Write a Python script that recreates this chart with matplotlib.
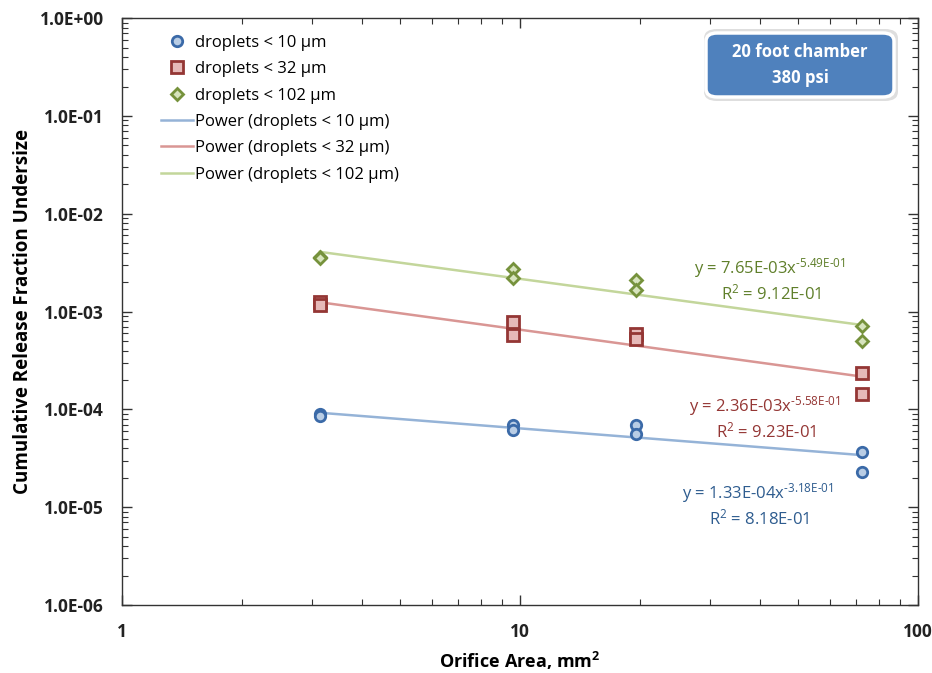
import numpy as np
import matplotlib
matplotlib.use('Agg')
import matplotlib.pyplot as plt
from matplotlib.ticker import LogLocator, NullFormatter, FixedLocator, FixedFormatter
from matplotlib.patches import FancyBboxPatch

plt.rcParams['font.family'] = ['Open Sans', 'DejaVu Sans']
plt.rcParams['mathtext.fontset'] = 'custom'
plt.rcParams['mathtext.rm'] = 'Open Sans'
plt.rcParams['mathtext.default'] = 'regular'

# ----------
# Data

areas = [3.14, 3.14, 9.6, 9.6, 19.6, 19.6, 72.4, 72.4]

frac_10 = [8.9e-5, 8.5e-5, 6.9e-5, 6.2e-5, 6.9e-5, 5.6e-5, 3.65e-5, 2.3e-5]
frac_32 = [1.25e-3, 1.16e-3, 7.8e-4, 5.7e-4, 5.9e-4, 5.2e-4, 2.34e-4, 1.45e-4]
frac_102 = [3.6e-3, 3.55e-3, 2.75e-3, 2.2e-3, 2.1e-3, 1.66e-3, 7.1e-4, 5.0e-4]

# power fits y = a * x^b, as printed on the chart
fit_a = [1.33e-4, 2.36e-3, 7.65e-3]
fit_b = [-3.18e-1, -5.58e-1, -5.49e-1]
fit_eq = ['1.33E-04', '2.36E-03', '7.65E-03']
fit_exp = ['-3.18E-01', '-5.58E-01', '-5.49E-01']
fit_r2_txt = ['8.18E-01', '9.23E-01', '9.12E-01']

series_names = ['droplets < 10 µm', 'droplets < 32 µm', 'droplets < 102 µm']
y_ticks = [1e-6, 1e-5, 1e-4, 1e-3, 1e-2, 1e-1, 1e0]
y_tick_labels = ['1.0E-06', '1.0E-05', '1.0E-04', '1.0E-03', '1.0E-02', '1.0E-01', '1.0E+00']
x_ticks = [1, 10, 100]
x_tick_labels = ['1', '10', '100']

# ----------

edge_cols = ['#3B6AA8', '#943634', '#76923C']
face_cols = ['#B9CDE5', '#E6B9B8', '#D7E4BD']
line_cols = ['#95B3D7', '#D99694', '#C3D69B']
text_cols = ['#2E5C8F', '#943634', '#5F7F2A']
markers = ['o', 's', 'D']
msizes = [7.5, 8, 6]

fig = plt.figure(figsize=(9.32, 6.73), dpi=100)
ax = fig.add_axes([0.131, 0.101, 0.854, 0.872])

all_y = [frac_10, frac_32, frac_102]
for i in range(3):
    ax.plot(areas, all_y[i], linestyle='none', marker=markers[i], ms=msizes[i],
            mfc=face_cols[i], mec=edge_cols[i], mew=2, label=series_names[i], zorder=3)

xs = np.linspace(min(areas), max(areas), 100)
for i in range(3):
    ax.plot(xs, fit_a[i] * xs ** fit_b[i], color=line_cols[i], lw=1.8,
            label='Power (' + series_names[i] + ')', zorder=2)

ax.set_xscale('log')
ax.set_yscale('log')
ax.set_xlim(1, 100)
ax.set_ylim(1e-6, 1)

ax.yaxis.set_major_locator(FixedLocator(y_ticks))
ax.yaxis.set_major_formatter(FixedFormatter(y_tick_labels))
ax.xaxis.set_major_locator(FixedLocator(x_ticks))
ax.xaxis.set_major_formatter(FixedFormatter(x_tick_labels))
ax.xaxis.set_minor_locator(LogLocator(base=10, subs=np.arange(2, 10)))
ax.yaxis.set_minor_locator(LogLocator(base=10, subs=np.arange(2, 10)))
ax.xaxis.set_minor_formatter(NullFormatter())
ax.yaxis.set_minor_formatter(NullFormatter())

ax.tick_params(which='both', direction='in', top=True, right=True, color='#333333')
ax.tick_params(which='major', length=7, width=1)
ax.tick_params(which='minor', length=4, width=0.8)
ax.tick_params(axis='y', which='major', pad=13)
ax.tick_params(axis='x', which='major', pad=13)
for lab in ax.get_xticklabels() + ax.get_yticklabels():
    lab.set_fontweight('bold')
    lab.set_fontsize(12.5)
    lab.set_color('#222222')
for sp in ax.spines.values():
    sp.set_color('#333333')
    sp.set_linewidth(1)

ax.set_xlabel('Orifice Area, mm$^{2}$', fontsize=13, fontweight='bold', labelpad=6)
ax.set_ylabel('Cumulative Release Fraction Undersize', fontsize=13.5, fontweight='bold', labelpad=5)

leg = ax.legend(loc='upper left', bbox_to_anchor=(0.03, 0.997), frameon=False,
                fontsize=12, labelspacing=0.62, handlelength=1.9, handletextpad=0.15)

# fit equations
eq_pos = [(758, 493), (765, 406), (770, 268)]
for i in range(3):
    px, py = eq_pos[i]
    fx = px / 932
    fy = 1 - py / 673
    fig.text(fx, fy, 'y = ' + fit_eq[i] + 'x$^{\\text{' + fit_exp[i] + '}}$',
             ha='center', va='center', fontsize=12, color=text_cols[i])
    fig.text(fx + 0.001, fy - 25 / 673, 'R$^{2}$ = ' + fit_r2_txt[i],
             ha='center', va='center', fontsize=12, color=text_cols[i])

# label box
box = FancyBboxPatch((706 / 932, 1 - 97 / 673), 188 / 932, 64 / 673,
                     boxstyle='round,pad=0,rounding_size=0.012', transform=fig.transFigure,
                     facecolor='#4F81BD', edgecolor='white', lw=2.5, zorder=5)
shadow = FancyBboxPatch((704 / 932, 1 - 101 / 673), 194 / 932, 72 / 673,
                        boxstyle='round,pad=0,rounding_size=0.014', transform=fig.transFigure,
                        facecolor='#c8c8c8', edgecolor='none', alpha=0.6, zorder=4)
fig.patches.append(shadow)
fig.patches.append(box)
fig.text(800 / 932, 1 - 52 / 673, '20 foot chamber', ha='center', va='center',
         fontsize=12, fontweight='bold', color='white', zorder=6)
fig.text(800 / 932, 1 - 78 / 673, '380 psi', ha='center', va='center',
         fontsize=12, fontweight='bold', color='white', zorder=6)

fig.savefig('out.png', dpi=100, facecolor='white')
